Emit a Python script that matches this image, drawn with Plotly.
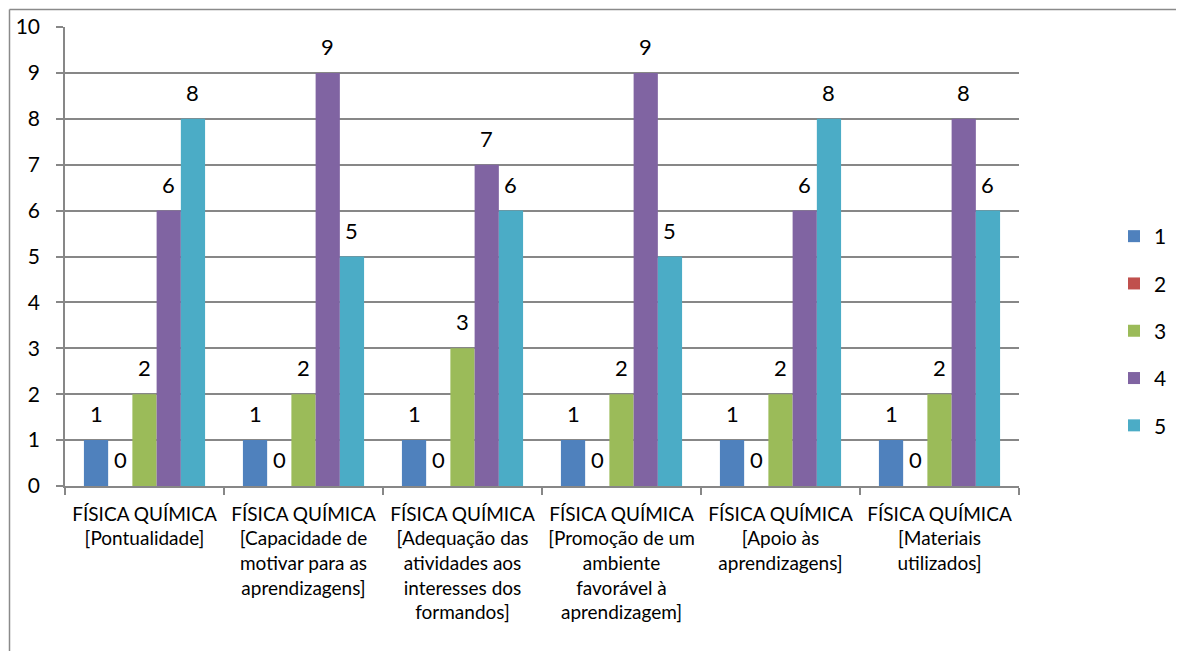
import plotly.graph_objects as go

# ─── data ──────────────────────────────────
CATEGORIES = [
    "FÍSICA QUÍMICA<br>[Pontualidade]",
    "FÍSICA QUÍMICA<br>[Capacidade de<br>motivar para as<br>aprendizagens]",
    "FÍSICA QUÍMICA<br>[Adequação das<br>atividades aos<br>interesses dos<br>formandos]",
    "FÍSICA QUÍMICA<br>[Promoção de um<br>ambiente<br>favorável à<br>aprendizagem]",
    "FÍSICA QUÍMICA<br>[Apoio às<br>aprendizagens]",
    "FÍSICA QUÍMICA<br>[Materiais<br>utilizados]",
]
SERIES_NAMES = ["1", "2", "3", "4", "5"]
VALUES_1 = [1, 1, 1, 1, 1, 1]
VALUES_2 = [0, 0, 0, 0, 0, 0]
VALUES_3 = [2, 2, 3, 2, 2, 2]
VALUES_4 = [6, 9, 7, 9, 6, 8]
VALUES_5 = [8, 5, 6, 5, 8, 6]
Y_TICKS = list(range(0, 11))

# ─── config ────────────────────────────────
# page body has an 8px margin, so the figure is drawn 8px smaller / shifted
W, H = 1176, 643
L, R, T, B = 57, 165, 19, 165
FONT = "Lato"
GRID = "#878787"
COLORS = ["#4F81BD", "#C0504D", "#9BBB59", "#8064A2", "#4BACC6"]
BARGAP = 0.238

series = [VALUES_1, VALUES_2, VALUES_3, VALUES_4, VALUES_5]

fig = go.Figure()
for name, vals, col in zip(SERIES_NAMES, series, COLORS):
    fig.add_trace(go.Bar(
        x=CATEGORIES, y=vals, name=name,
        marker=dict(color=col, line=dict(width=0)),
        legendgroup=name,
    ))

# value labels above each bar
plot_w = W - L - R
cat_w = plot_w / len(CATEGORIES)
bar_w = cat_w * (1 - BARGAP) / len(series)
for i, vals in enumerate(series):
    off = (i - (len(series) - 1) / 2) * bar_w
    for c, v in zip(CATEGORIES, vals):
        fig.add_annotation(
            x=c, y=v, text=str(v), showarrow=False,
            xshift=off, yshift=11, yanchor="bottom",
            font=dict(family=FONT, size=22, color="black"),
        )

# outer chart border (left and top edges)
plot_h = H - T - B
px = lambda p: (p - L) / plot_w
py = lambda p: (H - B - p) / plot_h
fig.add_shape(type="line", xref="paper", yref="paper",
              x0=px(1.5), x1=px(W + 5), y0=py(1.5), y1=py(1.5),
              line=dict(color="#8a8a8a", width=1.5))
fig.add_shape(type="line", xref="paper", yref="paper",
              x0=px(1.5), x1=px(1.5), y0=py(1.5), y1=py(H + 5),
              line=dict(color="#8a8a8a", width=1.5))

fig.update_xaxes(
    type="category", automargin=False,
    showline=True, linecolor=GRID, linewidth=1.5,
    ticks="outside", tickson="boundaries", ticklen=7, tickcolor=GRID, tickwidth=1.5,
    showgrid=False,
    tickfont=dict(family=FONT, size=19, color="black"),
    tickangle=0,
    ticklabelstandoff=10,
)
fig.update_yaxes(
    range=[0, 10], tickvals=Y_TICKS, automargin=False,
    showline=True, linecolor=GRID, linewidth=1.5,
    ticks="outside", ticklen=7, tickcolor=GRID, tickwidth=1.5,
    showgrid=True, gridcolor=GRID, gridwidth=1.5,
    zeroline=False,
    tickfont=dict(family=FONT, size=21, color="black"),
    ticklabelstandoff=12,
)

fig.update_layout(
    width=W, height=H,
    barmode="group", bargap=BARGAP, bargroupgap=0,
    plot_bgcolor="white", paper_bgcolor="white",
    margin=dict(l=L, r=R, t=T, b=B, autoexpand=False),
    font=dict(family=FONT, size=19, color="black"),
    legend=dict(
        x=px(1106), xanchor="left", y=py(323), yanchor="middle",
        font=dict(family=FONT, size=21),
        traceorder="grouped", tracegroupgap=17,
        itemwidth=30,
    ),
)

fig.write_html("out.html")
